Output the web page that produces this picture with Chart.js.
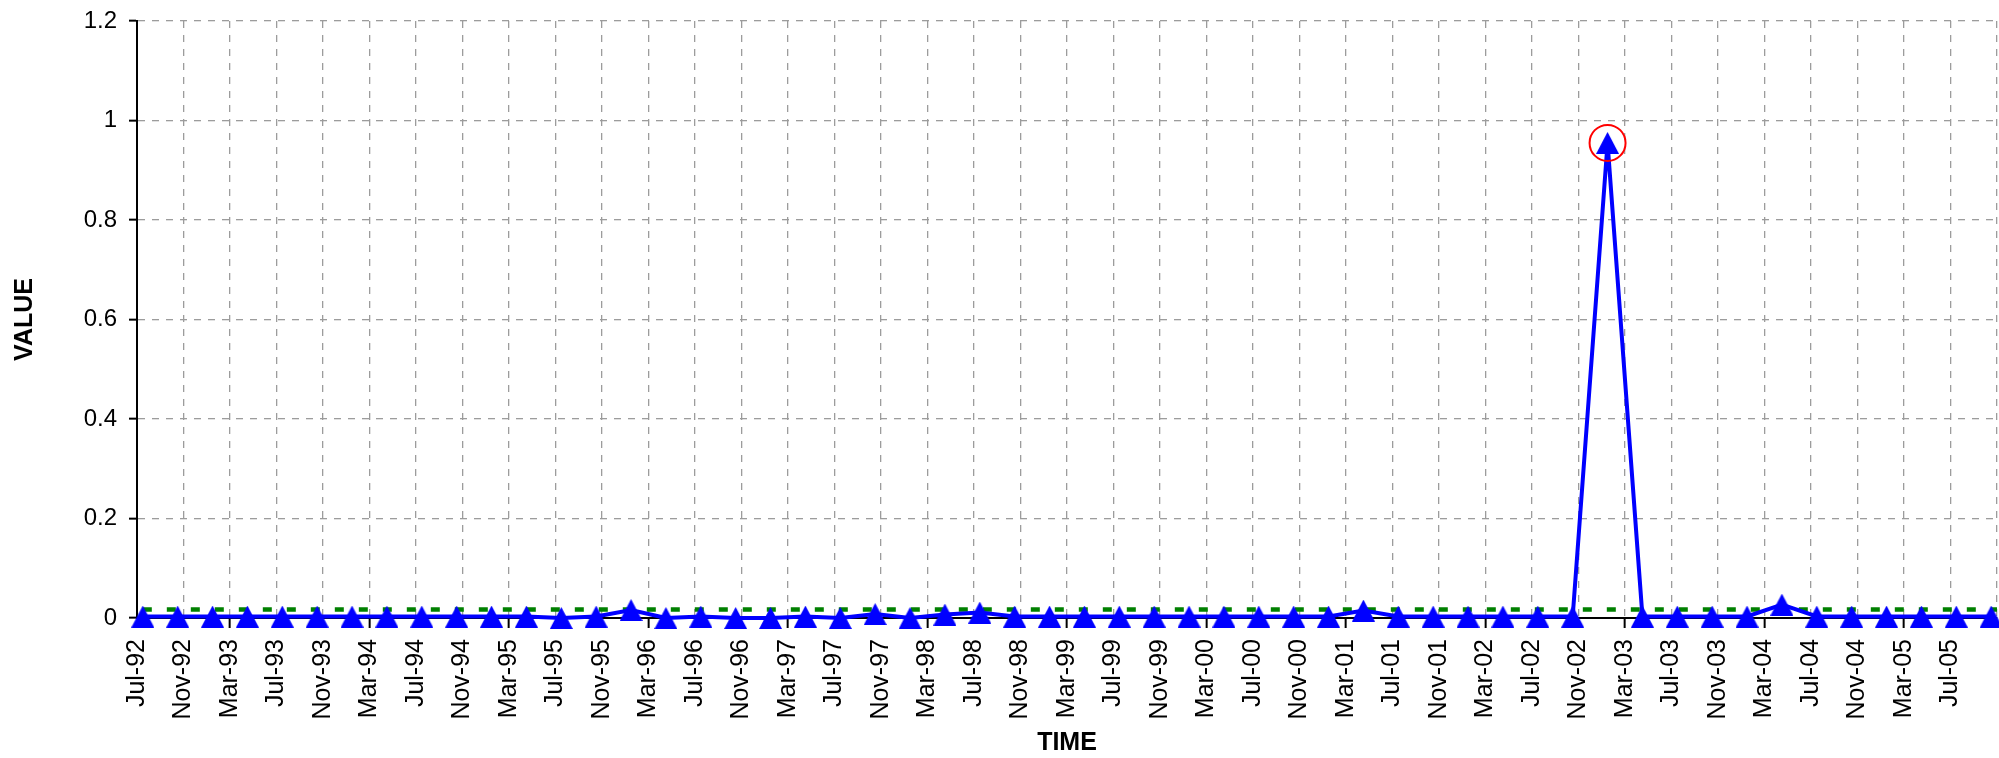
<!DOCTYPE html>
<html>
<head>
<meta charset="utf-8">
<script src="https://cdn.jsdelivr.net/npm/chart.js@4/dist/chart.umd.min.js"></script>
<style>
  html, body { margin: 0; padding: 0; background: #ffffff; }
  #chart { display: block; }
</style>
</head>
<body>
<canvas id="chart" width="1999" height="758"></canvas>
<script>
// --- data ---
const quarters = [
  'Jul-92', 'Oct-92',
  'Jan-93', 'Apr-93', 'Jul-93', 'Oct-93',
  'Jan-94', 'Apr-94', 'Jul-94', 'Oct-94',
  'Jan-95', 'Apr-95', 'Jul-95', 'Oct-95',
  'Jan-96', 'Apr-96', 'Jul-96', 'Oct-96',
  'Jan-97', 'Apr-97', 'Jul-97', 'Oct-97',
  'Jan-98', 'Apr-98', 'Jul-98', 'Oct-98',
  'Jan-99', 'Apr-99', 'Jul-99', 'Oct-99',
  'Jan-00', 'Apr-00', 'Jul-00', 'Oct-00',
  'Jan-01', 'Apr-01', 'Jul-01', 'Oct-01',
  'Jan-02', 'Apr-02', 'Jul-02', 'Oct-02',
  'Jan-03', 'Apr-03', 'Jul-03', 'Oct-03',
  'Jan-04', 'Apr-04', 'Jul-04', 'Oct-04',
  'Jan-05', 'Apr-05', 'Jul-05', 'Oct-05'
];
const values = [
  0.003, 0.003, 0.003, 0.003, 0.003, 0.003, 0.003, 0.003, 0.003, 0.003,
  0.003, 0.003, 0.000, 0.003, 0.016, 0.000, 0.003, 0.000, 0.000, 0.003,
  0.000, 0.008, 0.000, 0.007, 0.011, 0.003, 0.003, 0.003, 0.003, 0.003,
  0.003, 0.003, 0.003, 0.003, 0.003, 0.015, 0.003, 0.003, 0.003, 0.003,
  0.003, 0.003, 0.955, 0.003, 0.003, 0.003, 0.003, 0.027, 0.003, 0.003,
  0.003, 0.003, 0.003, 0.003
];
const threshold = 0.017;

const tickLabels = [
  'Jul-92', 'Nov-92', 'Mar-93', 'Jul-93', 'Nov-93', 'Mar-94', 'Jul-94', 'Nov-94',
  'Mar-95', 'Jul-95', 'Nov-95', 'Mar-96', 'Jul-96', 'Nov-96', 'Mar-97', 'Jul-97',
  'Nov-97', 'Mar-98', 'Jul-98', 'Nov-98', 'Mar-99', 'Jul-99', 'Nov-99', 'Mar-00',
  'Jul-00', 'Nov-00', 'Mar-01', 'Jul-01', 'Nov-01', 'Mar-02', 'Jul-02', 'Nov-02',
  'Mar-03', 'Jul-03', 'Nov-03', 'Mar-04', 'Jul-04', 'Nov-04', 'Mar-05', 'Jul-05'
];
const axisEnd = 'Nov-05';
const yTickLabels = ['0', '0.2', '0.4', '0.6', '0.8', '1', '1.2'];

// --- month helpers ---
const MONTHS = ['Jan', 'Feb', 'Mar', 'Apr', 'May', 'Jun', 'Jul', 'Aug', 'Sep', 'Oct', 'Nov', 'Dec'];
function monthNumber(lbl) {
  const parts = lbl.split('-');
  const yy = parseInt(parts[1], 10);
  const year = yy < 50 ? 2000 + yy : 1900 + yy;
  return year * 12 + MONTHS.indexOf(parts[0]);
}
const origin = monthNumber(tickLabels[0]);
const xMax = monthNumber(axisEnd) - origin;

// points sit in the middle of their month
const series = quarters.map((q, i) => ({ x: monthNumber(q) - origin + 0.5, y: values[i] }));

const tickByMonth = {};
tickLabels.forEach(t => { tickByMonth[monthNumber(t) - origin] = t; });

let peakIdx = 0;
values.forEach((v, i) => { if (v > values[peakIdx]) peakIdx = i; });

// triangle marker, centred on the point like the original
function triangleMarker(w, h, color) {
  const c = document.createElement('canvas');
  c.width = w; c.height = h;
  const g = c.getContext('2d');
  g.fillStyle = color;
  g.beginPath();
  g.moveTo(w / 2, 0);
  g.lineTo(w, h);
  g.lineTo(0, h);
  g.closePath();
  g.fill();
  return c;
}
const marker = triangleMarker(23, 22, '#0000ff');

const FONT = 'Liberation Sans, Arial, Helvetica, sans-serif';
const GRID = '#9c9c9c';

new Chart(document.getElementById('chart').getContext('2d'), {
  type: 'line',
  data: {
    datasets: [
      {
        label: 'peak',
        data: [series[peakIdx]],
        showLine: false,
        pointStyle: 'circle',
        pointRadius: 18,
        pointBackgroundColor: 'rgba(0,0,0,0)',
        pointBorderColor: '#ff0000',
        pointBorderWidth: 2,
        clip: false,
        order: 0
      },
      {
        label: 'VALUE',
        data: series,
        borderColor: '#0000ff',
        borderWidth: 4,
        tension: 0,
        pointStyle: marker,
        pointRadius: 11,
        clip: false,
        order: 1
      },
      {
        label: 'limit',
        data: [{ x: series[0].x, y: threshold }, { x: xMax, y: threshold }],
        borderColor: '#008000',
        borderWidth: 4.5,
        borderDash: [9, 15],
        pointRadius: 0,
        clip: false,
        order: 2
      }
    ]
  },
  options: {
    responsive: false,
    devicePixelRatio: 1,
    animation: false,
    layout: { autoPadding: false, padding: { top: 21, right: 2, left: 0, bottom: 0 } },
    plugins: { legend: { display: false }, tooltip: { enabled: false } },
    scales: {
      x: {
        type: 'linear',
        min: 0,
        max: xMax,
        afterFit: s => { s.height = 140; s.paddingLeft = 0; s.paddingRight = 0; },
        ticks: {
          stepSize: 4,
          maxTicksLimit: 200,
          autoSkip: false,
          minRotation: 90,
          maxRotation: 90,
          padding: 11,
          color: '#000000',
          font: { family: FONT, size: 25 },
          callback: v => tickByMonth[v] || ''
        },
        grid: {
          color: GRID,
          lineWidth: 1.3,
          tickLength: 10,
          tickWidth: 2,
          // black tick only at every March
          tickColor: c => (c.tick && ((c.tick.value + origin) % 12 === 2)) ? '#000000' : 'rgba(0,0,0,0)'
        },
        border: { display: true, color: '#000000', width: 2, dash: [7, 7] },
        title: {
          display: true,
          text: 'TIME',
          color: '#000000',
          font: { family: FONT, size: 25, weight: 'bold' },
          padding: { top: 0, bottom: 0 }
        }
      },
      y: {
        min: 0,
        max: 1.2,
        afterFit: s => { s.width = 137; s.paddingTop = 0; s.paddingBottom = 0; },
        ticks: {
          stepSize: 0.2,
          padding: 12,
          color: '#000000',
          font: { family: FONT, size: 24 },
          callback: (v, i) => yTickLabels[i]
        },
        grid: {
          color: c => (c.tick && c.tick.value === 0) ? 'rgba(0,0,0,0)' : GRID,
          lineWidth: 1.3,
          tickLength: 8,
          tickWidth: 2,
          tickColor: '#000000'
        },
        border: { display: true, color: '#000000', width: 2, dash: [7, 7] },
        title: {
          display: true,
          text: 'VALUE',
          color: '#000000',
          font: { family: FONT, size: 25, weight: 'bold' },
          padding: { top: 10, bottom: 0 }
        }
      }
    }
  }
});
</script>
</body>
</html>
